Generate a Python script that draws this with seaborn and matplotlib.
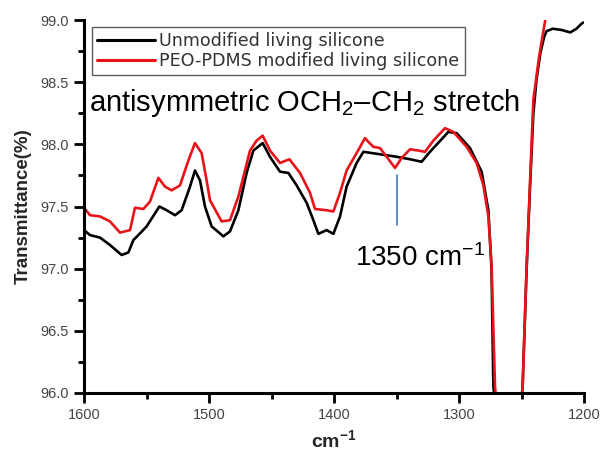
import numpy as np
import pandas as pd
import matplotlib
matplotlib.use("Agg")
import matplotlib.pyplot as plt
import seaborn as sns

# ---- data ----
wn_black = [1600, 1595.2, 1587.2, 1579.2, 1569.9, 1564.5, 1560.5, 1556.5, 1549.9, 1539.7,
            1533.9, 1527.2, 1521.9, 1515.2, 1511.2, 1507.2, 1503.2, 1497.9, 1488.5, 1483.2,
            1476.5, 1469.9, 1464.5, 1457.1, 1451.2, 1443.2, 1436.5, 1429.9, 1421.9, 1416.5,
            1412.5, 1405.9, 1400.5, 1395.2, 1389.9, 1381.9, 1376.5, 1363.2, 1349.9, 1339.2,
            1329.9, 1323.2, 1308.5, 1301.9, 1291.2, 1281.9, 1276.5, 1274.0, 1272.5, 1266,
            1260, 1254, 1249.1, 1245.9, 1243.2, 1240.5, 1238, 1235, 1232, 1230,
            1225, 1218, 1211, 1206, 1202, 1200.5]
tr_black = [97.31, 97.27, 97.25, 97.19, 97.11, 97.13, 97.23, 97.27, 97.34, 97.50,
            97.47, 97.43, 97.47, 97.66, 97.79, 97.71, 97.50, 97.34, 97.26, 97.30,
            97.47, 97.77, 97.95, 98.01, 97.90, 97.78, 97.77, 97.67, 97.53, 97.39,
            97.28, 97.31, 97.28, 97.42, 97.66, 97.85, 97.94, 97.92, 97.90, 97.88,
            97.86, 97.94, 98.10, 98.09, 97.97, 97.78, 97.47, 97.00, 96.05, 95.5,
            95.2, 95.5, 96.05, 97.00, 97.65, 98.25, 98.52, 98.73, 98.86, 98.91,
            98.93, 98.92, 98.90, 98.93, 98.97, 98.98]

wn_red = [1600, 1595.2, 1587.2, 1579.2, 1571.2, 1563.2, 1559.2, 1552.5, 1547.2, 1540.5,
          1535.2, 1529.9, 1523.2, 1516.5, 1511.2, 1505.9, 1501.9, 1499.2, 1489.9, 1483.2,
          1476.5, 1467.2, 1461.9, 1457.1, 1451.2, 1443.2, 1435.7, 1427.2, 1419.2, 1415.2,
          1405.9, 1400.5, 1395.2, 1389.9, 1381.9, 1375.2, 1372.5, 1368.5, 1363.2, 1357.9,
          1351.2, 1345.9, 1339.2, 1332.5, 1327.2, 1320.5, 1311.2, 1304.5, 1293.9, 1285.9,
          1280.5, 1276.5, 1273.9, 1271.2, 1266, 1260, 1254, 1249.1, 1245.9, 1243.2,
          1240.5, 1236, 1231, 1228]
tr_red = [97.49, 97.43, 97.42, 97.38, 97.29, 97.31, 97.49, 97.48, 97.54, 97.73,
          97.66, 97.63, 97.67, 97.87, 98.01, 97.93, 97.71, 97.55, 97.38, 97.39,
          97.58, 97.95, 98.03, 98.07, 97.95, 97.85, 97.88, 97.77, 97.61, 97.48,
          97.47, 97.46, 97.61, 97.79, 97.93, 98.05, 98.02, 97.98, 97.97, 97.90,
          97.81, 97.89, 97.96, 97.95, 97.94, 98.03, 98.13, 98.10, 97.98, 97.85,
          97.67, 97.42, 97.02, 96.05, 95.5, 95.2, 95.5, 96.05, 97.02, 97.69,
          98.36, 98.70, 99.00, 99.15]

series_names = ["Unmodified living silicone", "PEO-PDMS modified living silicone"]
series_colors = ["#000000", "#e8141a"]
x_ticks = [1600, 1500, 1400, 1300, 1200]
y_ticks = [96.0, 96.5, 97.0, 97.5, 98.0, 98.5, 99.0]
annot_text = "antisymmetric OCH$_2$–CH$_2$ stretch"
peak_pos = 1350
peak_label = "1350 cm$^{-1}$"

df = pd.concat([
    pd.DataFrame({"wn": wn_black, "T": tr_black, "series": series_names[0]}),
    pd.DataFrame({"wn": wn_red, "T": tr_red, "series": series_names[1]}),
], ignore_index=True)

# ---- style ----
sns.set_theme(style="ticks")
plt.rcParams["font.family"] = ["Liberation Sans", "DejaVu Sans"]
plt.rcParams["mathtext.fontset"] = "custom"
plt.rcParams["mathtext.rm"] = "Liberation Sans"
plt.rcParams["mathtext.it"] = "Liberation Sans:italic"
plt.rcParams["mathtext.bf"] = "Liberation Sans:bold"

fig = plt.figure(figsize=(6.01, 4.53), dpi=100)
ax = fig.add_axes([84 / 601, 1 - 393 / 453, 500 / 601, 373 / 453])

sns.lineplot(data=df, x="wn", y="T", hue="series", palette=series_colors,
             hue_order=series_names, estimator=None, sort=False,
             linewidth=1.9, ax=ax)

ax.set_xlim(1600, 1200)
ax.set_ylim(96.0, 99.0)
ax.set_xticks(x_ticks)
ax.set_xticklabels([str(v) for v in x_ticks])
ax.set_yticks(y_ticks)
ax.set_yticklabels([f"{v:.1f}" for v in y_ticks])
ax.set_xticks([1550, 1450, 1350, 1250], minor=True)
ax.set_yticks([96.25, 96.75, 97.25, 97.75, 98.25, 98.75], minor=True)

for side in ("top", "right"):
    ax.spines[side].set_visible(False)
for side in ("left", "bottom"):
    ax.spines[side].set_linewidth(2.2)
    ax.spines[side].set_color("black")

ax.tick_params(axis="both", which="major", direction="out", length=7, width=2,
               color="black", labelsize=10.5, labelcolor="#444444", pad=4)
ax.tick_params(axis="both", which="minor", direction="out", length=4, width=2,
               color="black")

ax.set_xlabel("cm$^{\\mathbf{-1}}$", fontsize=14, fontweight="bold", labelpad=5)
ax.set_ylabel("Transmittance(%)", fontsize=13.5, fontweight="bold", labelpad=6)

# annotations
ax.text(1596, 98.27, annot_text, fontsize=21, color="black",
        ha="left", va="baseline")
ax.plot([peak_pos, peak_pos], [97.35, 97.75], color="#4f81bd", linewidth=1.3)
ax.text(1383.2, 97.02, peak_label, fontsize=20, color="black",
        ha="left", va="baseline")

leg = ax.legend(loc="upper left", bbox_to_anchor=(0.016, 0.981), borderaxespad=0,
                frameon=True, fancybox=False, edgecolor="#333333",
                prop={"family": "DejaVu Sans", "size": 12.6},
                handlelength=3.3, handletextpad=0.25, borderpad=0.3,
                labelspacing=0.08, title=None)
leg.get_frame().set_linewidth(1.0)
for t in leg.get_texts():
    t.set_color("#333333")
for h in leg.get_lines():
    h.set_linewidth(2.2)

fig.savefig("out.png", dpi=100)
